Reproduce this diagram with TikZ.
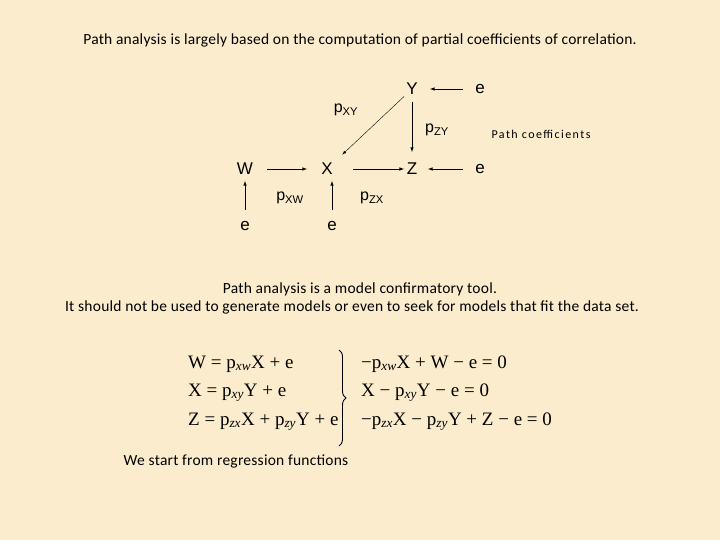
\documentclass[tikz,border=0pt]{standalone}
\usepackage{fontspec}
\setmainfont{Carlito}[LetterSpace=1.5]
\newfontfamily\arialfont{Liberation Sans}
\newfontfamily\timesfont{Liberation Serif}
\newfontfamily\notefont{Carlito}[LetterSpace=12]
\usetikzlibrary{arrows}
\usetikzlibrary{positioning}
\usetikzlibrary{decorations.pathreplacing}
\definecolor{parchment}{RGB}{250,236,204}
\tikzset{
	var/.style={font=\arialfont\fontsize{17}{19}\selectfont, inner sep=1pt},
	coef/.style={font=\arialfont\fontsize{16}{18}\selectfont, inner sep=1pt},
	txt/.style={font=\fontsize{15.5}{18}\selectfont, inner sep=0pt},
	eqn/.style={font=\timesfont\fontsize{19}{22}\selectfont, anchor=base west, inner sep=0pt},
	brace/.style={decorate, decoration={brace,amplitude=7pt}, draw, line width=0.9pt},
}
\tikzstyle{arrow} = [->, >=latex, semithick]
\newcommand{\pp}[1]{p\textsubscript{\itshape #1}}

\begin{document}
\begin{tikzpicture}[x=1pt,y=-1pt]
			\fill[parchment] (0,0) rectangle (720,540);
			\useasboundingbox (0,0) rectangle (720,540);
			% Title
			\node[txt] (title) at (360,40) {Path analysis is largely based on the computation of partial coefficients of correlation.};
			% Variables
			\node[var] (Y) at (412,89) {Y};
			\node[var] (W) at (245,169) {W};
			\node[var] (X) at (327,169) {X};
			\node[var] (Z) at (412,169) {Z};
			\node[var] (eY) at (480,89) {e};
			\node[var] (eZ) at (480,169) {e};
			\node[var] (eW) at (245,226) {e};
			\node[var] (eX) at (332,226) {e};
			% Path coefficients
			\draw[arrow, shorten <=17pt, shorten >=18pt] (eY.center) -- (Y.center);
			\draw[arrow, thin, shorten <=11pt, shorten >=21pt] (Y.center) -- (X.center);
			\draw[arrow, shorten <=13pt, shorten >=17pt] (Y.center) -- (Z.center);
			\draw[arrow, shorten <=22pt, shorten >=20pt] (W.center) -- (X.center);
			\draw[arrow, shorten <=26pt, shorten >=8pt] (X.center) -- (Z.center);
			\draw[arrow, shorten <=17pt, shorten >=16pt] (eZ.center) -- (Z.center);
			\draw[arrow, shorten <=16pt, shorten >=12pt] (eW.center) -- (W.center);
			\draw[arrow, shorten <=16pt, shorten >=12pt] (eX.center) -- (eX.center |- X.center);
			% Labels
			\node[coef] (pxy) at (346,110) {p\textsubscript{XY}};
			\node[coef] (pzy) at (437,130) {p\textsubscript{ZY}};
			\node[coef] (pxw) at (290,198) {p\textsubscript{XW}};
			\node[coef] (pzx) at (372,198) {p\textsubscript{ZX}};
			\node[font=\notefont\fontsize{12}{14}\selectfont] (pcoef) at (541,134) {Path coefficients};
			% Text
			\node[txt] (line1) at (360,289) {Path analysis is a model confirmatory tool.};
			\node[txt] (line2) at (352,307) {It should not be used to generate models or even to seek for models that fit the data set.};
			% Regression functions
			\node[eqn] (eqW) at (188,368) {W = \pp{xw}X + e};
			\node[eqn] (eqX) at (188,396) {X = \pp{xy}Y + e};
			\node[eqn] (eqZ) at (188,425) {Z = \pp{zx}X + \pp{zy}Y + e};
			\coordinate (btop) at (339,350);
			\coordinate (bbot) at (339,446);
			\draw[brace] (btop) -- (bbot);
			\node[eqn] (rW) at (361,368) {−\pp{xw}X + W − e = 0};
			\node[eqn] (rX) at (361,396) {X − \pp{xy}Y − e = 0};
			\node[eqn] (rZ) at (361,425) {−\pp{zx}X − \pp{zy}Y + Z − e = 0};
			\node[txt] (start) at (236,461) {We start from regression functions};
		\end{tikzpicture}
\end{document}
